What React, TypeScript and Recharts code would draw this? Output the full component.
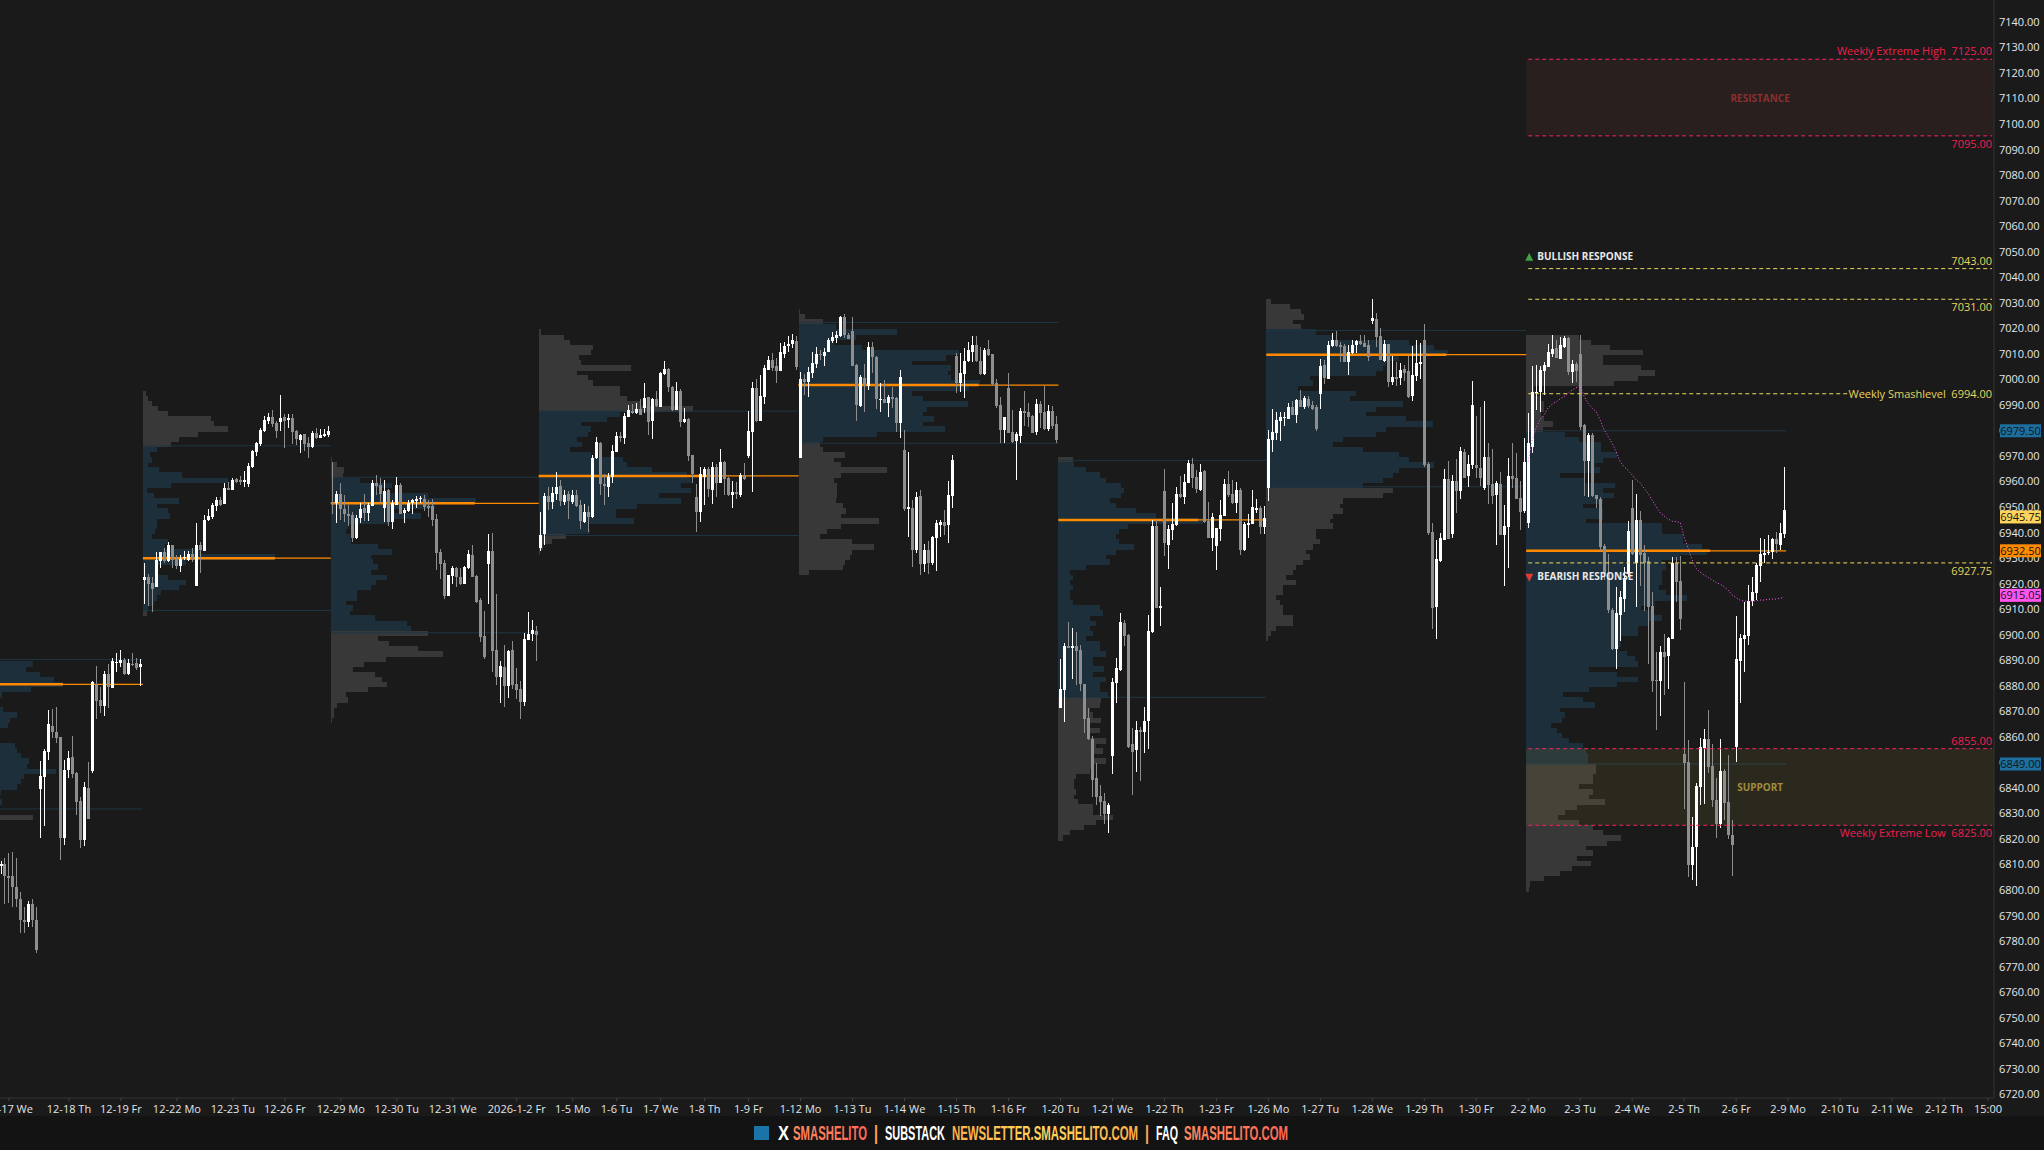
import { ComposedChart, Bar, Line, XAxis, YAxis, ReferenceLine, ReferenceArea, ReferenceDot } from "recharts";

// price bars are [open, high, low, close], 30 minute RTH bars, one list per weekly session
const week1215 = [
  [6809,6811,6806,6810],[6810,6812,6794,6805],[6805,6814,6794.5,6804.5],[6805,6814.5,6793,6801],[6801,6812,6793,6796],
  [6796,6799,6783,6788],[6788,6793,6783,6787],[6787,6795.5,6785,6794],[6794,6796,6785,6788],[6788,6793,6775,6776],
  [6839.3,6850,6820,6844.2],[6844,6854.7,6824.7,6854],[6853.6,6870,6850.6,6864.5],[6864,6870.7,6859.2,6861.5],[6861.7,6871.5,6857.2,6859.2],
  [6859.4,6859.4,6811.4,6820],[6820,6850.5,6817.2,6846.7],[6846.7,6854,6843.4,6851.2],[6851.7,6860,6843.4,6845],[6845.4,6845.7,6829,6834],
  [6834.4,6836,6816,6819.4],[6819.4,6842,6817,6839.8],[6839.5,6849.7,6827.4,6827.6],[6846.4,6881.7,6845.4,6881],[6880,6887.4,6866.6,6873.7],
  [6874,6879,6869,6871.6],[6871.6,6885.4,6867.7,6884.2],[6884.4,6888,6871,6879],[6878.6,6890.7,6878.6,6889.5],[6888.5,6892.6,6885,6889],
  [6888.4,6893.5,6887,6889.6],[6889.6,6890.7,6884,6884.2],[6884.2,6890,6884,6888.4],[6888.3,6892.5,6887.2,6887.6],[6888.4,6890.7,6886,6886.6],
  [6887,6890.2,6879.4,6888],
];
const week1222 = [
  [6921,6927.7,6911.7,6922.1],[6922.1,6923.3,6911,6919.6],[6919.9,6922.1,6908.4,6917.6],[6918.3,6931.9,6918.3,6928.9],[6928.4,6932,6925.9,6932],
  [6932.2,6933.4,6927.7,6928.4],[6928.4,6936,6928.2,6934.8],[6934.8,6934.8,6925.9,6928.9],[6929.2,6930.7,6925.2,6926.4],[6926.5,6930.7,6924.1,6929.2],
  [6929.5,6932.3,6928.9,6930.1],[6928.9,6932.3,6928.6,6931.2],[6931.2,6933.4,6928.2,6928.9],[6918.7,6943.2,6918.7,6934.8],[6934.8,6936,6923.9,6932.8],
  [6932.5,6946.6,6932.5,6944.5],[6944.5,6948.7,6944.3,6946.1],[6945.7,6951.4,6945.1,6950.4],[6950,6953.5,6948.1,6952.3],[6952.3,6953.5,6949.9,6950.6],
  [6951,6958.9,6951,6957.1],[6957.1,6959.5,6956.4,6956.4],[6956.4,6961.1,6956.2,6960.4],[6960.5,6961.1,6958.9,6959.3],[6960.1,6961.9,6958.1,6959.5],
  [6959.3,6963.7,6957.4,6960.1],[6958.6,6966.9,6957.4,6965.7],[6965.2,6972,6964.9,6971.5],[6971.3,6975.2,6969.7,6974.7],[6974.5,6980.4,6973.6,6979.9],
  [6979.3,6985.2,6978.9,6983.6],[6983.4,6986.3,6982.2,6984.8],[6984.8,6987.8,6981,6982.2],[6982.4,6983.2,6976.6,6979.4],[6983,6993.7,6979.4,6984.5],
  [6984.7,6985.9,6972.7,6983.2],[6983.6,6986.2,6980.7,6984.5],[6984.5,6985.9,6974.2,6978.9],[6979.4,6979.9,6973.9,6976.3],[6976,6978.4,6970.9,6978],
  [6978.4,6978.4,6971.5,6974.4],[6974.7,6976.9,6969,6973.2],[6973,6979.6,6972.7,6978.7],[6978.7,6980.7,6976.2,6976.6],[6976.8,6980.2,6976.6,6977.8],
  [6977.5,6980.2,6976.9,6978.3],[6977.8,6981.4,6977.2,6979.6],
];
const week1229 = [
  [6951.4,6967.4,6946.9,6951.1],[6951.1,6955.9,6943.4,6954.7],[6954.7,6959.2,6944.7,6948.9],[6948.9,6954.4,6943.6,6946.9],[6946.9,6950.4,6942.1,6946.1],
  [6946.6,6947.7,6936.1,6937.5],[6937.5,6946.6,6937,6945.4],[6945.2,6951.1,6943.2,6948.9],[6949.2,6954.7,6944,6947.2],[6947.2,6951.4,6944.2,6950.4],
  [6950.2,6960.1,6950.2,6958.9],[6959.2,6962.2,6954.4,6958],[6958.1,6961.1,6951.4,6954.7],[6949.2,6960.4,6943.9,6955.9],[6956.4,6956.7,6942.4,6943.9],
  [6943.7,6952.2,6940.9,6951.4],[6950.6,6961.5,6950.6,6958.1],[6958.1,6959.2,6946.9,6946.9],[6947.2,6949.2,6943.4,6948.4],[6948.1,6952.2,6947.7,6951.4],
  [6951.3,6952.9,6946.9,6952.3],[6952,6954.1,6949.2,6952.9],[6952.6,6953.9,6951.1,6953.2],[6952.9,6954.4,6948.1,6949.6],[6949.9,6952.2,6945.7,6949.2],
  [6949.9,6952.9,6942.4,6944.7],[6945.1,6946.9,6924.9,6931.6],[6931.9,6933.1,6921.4,6927.4],[6927.7,6928.9,6913.6,6914.7],[6914.8,6922.9,6914.7,6922.9],
  [6922.6,6926.6,6919.4,6925.9],[6925.9,6926.2,6918.4,6922.1],[6922.1,6925.9,6919.2,6919.6],[6919.6,6926.4,6919.4,6926.1],[6925.6,6933,6925.2,6931.2],
  [6930.9,6934.9,6922.1,6922.1],[6922.6,6922.9,6912.1,6912.4],[6913.2,6913.9,6896.7,6898.6],[6899.1,6908.8,6890.2,6891.1],[6927.3,6939.1,6911.5,6932.4],
  [6932.4,6939.4,6885.1,6893.2],[6893.5,6915.4,6879.9,6883.2],[6883.2,6889.2,6872.7,6887.4],[6887.1,6895.5,6871.2,6879.4],[6879.4,6893.7,6874.9,6893.2],
  [6893.5,6897,6878.2,6879.9],[6880.2,6886.5,6874.6,6877.9],[6878.2,6881.7,6866.7,6873.1],[6873.1,6900.4,6871.6,6897.9],[6897.4,6908.5,6897.4,6899.8],
  [6899.8,6905.5,6897.1,6901.5],[6901,6903,6889.5,6899.7],
];
const week0105 = [
  [6933.4,6947.8,6932.5,6938.7],[6938.9,6955.1,6934.7,6954.1],[6953.9,6957.3,6948.4,6951.6],[6951.6,6957.3,6948.8,6955],[6954.6,6963.2,6952.4,6957.6],
  [6957.8,6960.2,6950,6952.1],[6951.6,6956.5,6950.4,6954.2],[6954.6,6956,6945,6952],[6951.8,6956.5,6950.8,6954.2],[6954.2,6956.3,6949.8,6950.2],
  [6950.4,6952.4,6940.9,6944.1],[6943.6,6950.7,6943.2,6947.7],[6947.7,6950,6940,6945.8],[6945.8,6970,6945.4,6968.8],[6968.8,6977.2,6968.6,6975.1],
  [6974.9,6975.2,6954.3,6958.6],[6958.6,6962.5,6950.4,6957.8],[6957.5,6962.8,6953.7,6961.5],[6961.5,6973.9,6959.1,6971.6],[6971.2,6979,6971.2,6977.4],
  [6977.4,6978.9,6975.2,6976.6],[6976.6,6986.3,6974.3,6985.3],[6984.9,6989.6,6984.7,6987.6],[6987.2,6990,6986,6986.3],[6986.3,6990.2,6986,6988],
  [6988,6991.8,6985.7,6985.7],[6988.3,6998.1,6986.3,6992.4],[6992.6,6992.8,6977.8,6982.9],[6983.3,6992.4,6976.3,6991.8],[6991.9,6995,6988.7,6989.2],
  [6988.7,7002.5,6988.7,7002.2],[7001.7,7006.8,7001.4,7003.7],[7003.7,7003.9,6994.8,6996.5],[6996.6,6997,6987.2,6987.6],[6987.6,6998.5,6987.6,6995.1],
  [6995.1,6995.7,6981.1,6982.9],[6982.9,6988.5,6982.7,6984.1],[6984.1,6984.4,6967.6,6969.6],[6970,6970,6959.1,6962.5],[6953.7,6958.6,6940,6947.7],
  [6947.7,6965.4,6943.9,6962.4],[6961.5,6965.4,6950.5,6964.6],[6964.5,6965.4,6953.7,6956.7],[6956.3,6967.1,6950.7,6965.3],[6965.3,6966.5,6953.7,6959.1],
  [6959.1,6972.3,6958.9,6967.2],[6967.4,6967.6,6954.2,6960.6],[6961,6961.5,6953.9,6954.3],[6954.3,6959.8,6949.2,6955.5],[6955.5,6959.5,6952.6,6954.7],
  [6954.3,6963.1,6953.7,6962.3],[6962.2,6966.7,6960.2,6960.6],[6969.6,6987.2,6968.7,6979.4],[6979.1,6998.7,6955.6,6996.4],[6996.4,6999.6,6983,6983.4],
  [6983.4,7001.4,6983.4,6993.1],[6992.7,7005.2,6990,7003.9],[7003.3,7008.8,7003.3,7007.2],[7007.2,7010.1,7003,7003.9],[7004.9,7007.9,6998.3,7003],
  [7003,7014,7003,7010.3],[7009.5,7014.4,7008.1,7012.8],[7012.7,7016.6,7010.5,7013.5],[7013.5,7017.4,7011.9,7015],[7014.6,7016.6,7003.3,7004.3],
];
const week0112 = [
  [6968.8,7002.4,6968.7,6999.8],[6999.8,7001.7,6993.5,6998.5],[6998.5,7004.6,6992.8,7002.4],[7002,7010.5,7000,7005.9],[7005.6,7012.4,7003.9,7009.6],
  [7009.6,7011.1,7007.2,7009],[7008.8,7011.8,7005,7010.5],[7010.5,7015.9,7010.2,7015],[7014.6,7018.3,7014,7016.3],[7015.8,7018.6,7013.7,7017.1],
  [7016.7,7024.6,7016.3,7024.2],[7024.2,7025.1,7015.7,7016.9],[7016.9,7017.6,7015.3,7015.4],[7018.6,7023.9,7004.8,7005],[7005.2,7005.5,6983.4,6989.6],
  [6989.3,7001.3,6988.7,7000.4],[7000.3,7005.6,6987,6997.1],[6997.1,7014.4,6995.4,7012.4],[7012.4,7014.4,7002.2,7008.2],[7008.5,7008.8,6987.9,6991.9],
  [6991.5,6998.1,6987,6992],[6992,6999.4,6990.2,6990.2],[6990.5,6993.5,6985,6992.7],[6992.7,6996.8,6988.4,6992],[6992.3,6992.8,6979.1,6982.7],
  [6982.7,7003.3,6976.8,7000.5],[6971.9,6979.8,6948.2,6948.7],[6949,6971.2,6938,6949.6],[6949.2,6952.4,6926.3,6932.8],[6932.8,6955.4,6931.5,6953.5],
  [6953.9,6956.5,6923.2,6927.3],[6927.3,6935.1,6924.3,6932.8],[6932.8,6936.4,6923.6,6927.6],[6927.6,6938.3,6926.9,6937.9],[6937.6,6944.5,6924.7,6943.2],
  [6942.6,6944.5,6938,6943.7],[6943.7,6948.4,6938.7,6942.4],[6942.6,6959.8,6935.4,6954.2],[6954,6970,6949.1,6968],[7008.9,7009.8,6994.4,6998.3],
  [6998.3,7009.8,6994.8,7002.2],[7001.7,7011.8,6992.4,7007],[7006.8,7014.4,7006.5,7011.1],[7010.2,7016.7,7006.5,7013.1],[7013.1,7016.7,7006.5,7006.8],
  [7006.8,7012.4,7001.3,7001.7],[7001.7,7011.8,7001.3,7011.1],[7011.5,7015,7008.8,7009.2],[7009.4,7009.5,6997.4,6997.8],[6998.1,6999.8,6988.3,6989.2],
  [6989.6,6992.6,6974.6,6979.8],[6979.8,6985,6974.6,6984.7],[6996.2,7002,6978.5,6978.7],[6979,6987.6,6974.6,6975.2],[6975.5,6978.9,6960.2,6978.2],
  [6977.4,6988.3,6974.6,6987.2],[6987.2,6995.1,6981.3,6986.6],[6986.8,6990.2,6981.1,6984.7],[6985.3,6985.7,6978.5,6978.7],[6979.1,6991.9,6977.8,6990],
  [6990,6991.3,6980.4,6986.3],[6986.8,6997.1,6979.8,6980],[6980.2,6989.4,6979.5,6987.2],[6987.2,6989.2,6980,6981.3],[6982.1,6985.3,6974.8,6975.9],
];
const week0120 = [
  [6870.9,6890.1,6870.9,6878.3],[6877.9,6896.5,6865.3,6895.1],[6895.1,6904.5,6894.3,6894.4],[6894.4,6902.4,6882.1,6895.1],[6895.1,6900.6,6880,6893.3],
  [6893.6,6895.8,6877.6,6880.3],[6880.3,6880.3,6861.1,6866.7],[6867,6870.9,6858.3,6858.6],[6858.7,6860,6835.9,6842.7],[6843.5,6849.2,6833.1,6835.9],
  [6836.4,6840.8,6828.7,6834],[6834.4,6837.6,6825.4,6829.5],[6829.6,6833.6,6822,6833.1],[6852,6882.8,6845,6881],[6880.7,6890.5,6873,6886.6],
  [6886,6908.3,6885.6,6904.5],[6904.2,6905.2,6895.1,6899.2],[6899.6,6900,6855.2,6855.8],[6856.8,6863.2,6836.9,6853.8],[6854.4,6865.7,6845.7,6862.2],
  [6862.2,6863.6,6842.2,6861.4],[6861.4,6871.2,6853.2,6866],[6865.7,6907.3,6854.8,6901],[6900.6,6944.4,6900.3,6942.3],[6942.3,6944.4,6910,6910],
  [6910.2,6918.5,6903.1,6910.8],[6955.8,6964.4,6930.4,6935.5],[6934.7,6942.5,6925.5,6941.1],[6940.6,6951.4,6936.7,6943],[6942.6,6957.4,6942.3,6954.6],
  [6954.7,6961.6,6953,6953.4],[6953.4,6962.5,6950.7,6959.3],[6959,6967.9,6959,6966.9],[6966.3,6968.8,6957.2,6961.2],[6961.4,6964,6955.3,6956.7],
  [6956.3,6966.3,6956,6963.2],[6963.7,6964,6943.4,6943.7],[6944,6951.8,6937.4,6937.6],[6937.5,6947.2,6932.5,6945.6],[6934.3,6941.6,6925,6941.6],
  [6941.1,6952.3,6936.3,6946.5],[6946.2,6960.7,6946.2,6958.6],[6958.6,6963.7,6953.5,6954.3],[6954.7,6960.4,6950.7,6951.2],[6951.1,6959.6,6947.2,6956.4],
  [6956.3,6957,6930.8,6932.8],[6932.8,6943.7,6932.5,6943],[6942.5,6946.8,6937.5,6943.4],[6943.1,6956.3,6943,6949.5],[6948.6,6952.8,6947.2,6949.1],
  [6949.3,6950.1,6939.2,6941.7],[6941.7,6950.1,6939.2,6945.5],
];
const week0126 = [
  [6957.2,6979.8,6952.1,6976.3],[6975.8,6988,6971,6978.9],[6978.6,6987,6975.8,6983.7],[6983.3,6986.8,6975.4,6984.8],[6984.5,6987,6981.4,6984.9],
  [6984.2,6990.5,6984.2,6988.7],[6989,6991.2,6985.6,6985.6],[6985.8,6991.9,6982.6,6991.6],[6991.5,6995.4,6989,6989],[6988.9,6993.3,6988,6992.4],
  [6991.9,6993.3,6988.4,6989.1],[6989.6,6991.2,6987.7,6988.2],[6988.7,6989.6,6979.3,6980],[6993.9,7007.6,6988,7004.8],[7005.2,7007.3,6997.8,7000],
  [6999.9,7014.6,6999.6,7013],[7012.6,7017.8,7012.5,7015],[7015,7018.5,7012.5,7012.6],[7013.2,7014.3,7006.6,7012.2],[7012.8,7013.6,7006.3,7006.3],
  [7006.3,7012.9,7001.3,7010.5],[7010,7015,7009.7,7013.2],[7012.9,7015,7010.1,7014.6],[7014.6,7017,7012.9,7013.3],[7013.9,7017.1,7012.2,7012.5],
  [7013,7015,7006.9,7008.4],[7022.4,7031.1,7021.3,7023.7],[7023.1,7025.5,7012.2,7016.4],[7016.8,7019.9,7007.2,7007.2],[7007,7015,7006.6,7013.5],
  [7013.5,7013.6,6996.8,6998.5],[6998.5,7008.7,6997.5,7000.5],[7000.5,7006.3,6997.1,7000],[7000,7005.9,6997.5,7003.3],[7003.5,7005.2,6998.9,7002.1],
  [7002.8,7008.7,6992.4,6992.9],[6993,7012.6,6991.2,7001.3],[7000.9,7015,6998.9,7006.1],[7005.8,7013.9,6999.6,7006.3],[7015,7021.3,6965.3,6966],
  [6966.5,6967.4,6938.8,6939.5],[6940,6943.4,6902,6910.1],[6910.4,6936.7,6897.9,6929.3],[6928.6,6939.5,6928.3,6937.4],[6936.8,6964.4,6936.7,6960.5],
  [6960.5,6967.7,6937.1,6937.1],[6939.2,6962.1,6937.6,6960],[6960,6968.4,6947.2,6956],[6956,6973,6952.8,6971.4],[6971,6972.3,6960.9,6961.2],
  [6961.6,6970.2,6957.4,6966.3],[6966,6998.9,6964.6,6989.6],[6966,6985.4,6961.2,6964.9],[6964.9,6988.7,6957.7,6961.2],[6957.2,6991.1,6956.3,6969.1],
  [6969.1,6974.9,6950.7,6958.1],[6958.5,6972.3,6950.7,6953.9],[6954.2,6959.8,6934.8,6959.1],[6958.5,6963.3,6938.6,6938.8],[6938.8,6950.4,6918.8,6942.1],
  [6941.8,6968.8,6925.8,6961.6],[6961.9,6974.9,6957,6960.5],[6960.9,6970.7,6952.6,6952.8],[6953.2,6959.8,6940.6,6947.6],[6947.9,6976.5,6947.2,6967.4],
];
const week0202 = [
  [6943.2,6986.3,6941.3,6974.6],[6973.3,7005,6970.9,6994.5],[6994.2,7005.2,6987.6,6994.8],[6994.5,7005,6987,7003.3],[7002.9,7006.3,6993.5,7005.2],
  [7004.6,7013.5,7004.6,7010.2],[7009.4,7017,7008.5,7011.5],[7011.8,7015,7007.9,7008.1],[7007.6,7016.1,7007.6,7013.1],[7012.3,7016.6,7011.8,7016],
  [7015.8,7016.3,7001.3,7002.6],[7002.4,7007.2,6998.1,7005.6],[7005.6,7006.6,6998.5,7003],[7009.4,7017,6979.8,6981.1],[6981.8,6982.1,6954,6967.8],
  [6967.6,6978.5,6953.7,6977.8],[6977.8,6978.5,6953.4,6954],[6954.3,6954.3,6949.1,6952.6],[6952.6,6953.7,6932.4,6934.1],[6934.5,6935.1,6921,6923.6],
  [6923.6,6931.2,6908.2,6909.3],[6909.3,6909.9,6893.6,6893.9],[6894,6918.4,6886.2,6908.2],[6907.3,6916.7,6897.1,6914.5],[6913.6,6926.3,6908.6,6921.7],
  [6923.6,6944.3,6922.3,6940.4],[6949.4,6960.2,6930.8,6931.2],[6927.6,6954.7,6910.6,6944.5],[6944.5,6948.1,6918.7,6930.8],[6931.7,6934.7,6909,6927.9],
  [6928.5,6929.9,6888.1,6910.6],[6910.8,6916.3,6877.2,6881.6],[6881.9,6892.8,6862.3,6881.5],[6881.5,6895.2,6867.8,6892.8],[6892.8,6900.1,6876,6891],
  [6891.3,6898.8,6878.3,6898.3],[6897.9,6929.9,6897.9,6927.9],[6927.9,6929.9,6912.5,6920.4],[6920.6,6930.4,6901.4,6905.8],[6853.1,6881.1,6831.3,6849.5],
  [6849.7,6858.4,6804.8,6809.4],[6809.4,6828.3,6803.5,6816.6],[6816.5,6841.7,6801.2,6840.3],[6840.1,6859,6832.9,6855.5],[6855.1,6862.9,6833.3,6858.8],
  [6858.8,6870.1,6845.3,6847.9],[6848.2,6856.8,6832.2,6834.9],[6834.9,6843.6,6820.1,6825.7],[6825.7,6858.6,6823.8,6846.2],[6846.2,6846.9,6827,6833.8],
  [6834.1,6852.5,6819.5,6821.2],[6821.2,6827,6805.2,6817.2],[6855.8,6907,6849.9,6890.1],[6889.4,6899.8,6872.7,6898.3],[6898.1,6912.5,6885.1,6899.5],
  [6899.2,6919.1,6895.6,6912.8],[6912.9,6922.1,6910.8,6916.3],[6916,6927.6,6913.2,6926.9],[6926.6,6937.4,6920.4,6931.2],[6931,6937,6927.6,6931.6],
  [6931.6,6938.7,6930.8,6932.1],[6932.1,6937.4,6929.4,6937],[6937,6940,6931.5,6935],[6934.7,6943.2,6932.8,6939.3],[6939,6965.2,6937.7,6948.4],
];
const allBars = [...week1215, ...week1222, ...week1229, ...week0105, ...week0112, ...week0120, ...week0126, ...week0202];

const vwapWeek0202 = [
  6967.4,6975.9,6980.8,6984.1,6985.7,6988.6,6989.9,6990.9,6992,6992.9,6994.2,6995.5,6996.4,6997.2,6992.9,6990.2,6988.3,6987,6983.7,6979.8,
  6977.2,6974.6,6971.3,6967.4,6965.4,6963.9,6962.2,6960.2,6959.1,6956.9,6955,6952.4,6949.8,6947.4,6946.1,6944.9,6944.1,6943.9,6943.6,6938,
  6933.4,6928.9,6925.6,6924.1,6923,6922.1,6921.1,6920.1,6919.4,6918.4,6917.1,6915.2,6914.1,6913.2,6912.8,6912.8,6912.8,6912.9,6913.2,6913.2,
  6913.5,6913.6,6913.6,6913.9,6914.3,
];

// volume profile, one length per 2 point row from the top price down (in bar slots)
const profile1215 = [8.5,6.7,10.3,13.8,16,8,0.7,0,0,0.9,4.5,2.7,2.2,0,0,0,4,4.5,5.4,7.6,7.1,14.3,6.3,5.4,4.5,0.4,0,0.7,0,0,8.5];
const profile1222 = [0.7,1.3,2.2,3.8,6.3,17,17.9,21.4,13.8,8.9,7.1,3.6,1.8,2.2,1.3,4,9.8,21.4,7.1,1.1,2.7,8.9,3.6,6.3,6.7,3.6,3.6,3.1,2.2,6.3,5.4,14.3,33,10.7,3.6,3.6,6.3,10.7,8.9,4.5,3.6,2.7,1.3,0.9];
const profile1229 = [0.4,1.6,3.4,3,7.4,15.4,11,24.4,36.4,26,15.4,22.5,14.5,4.2,3.8,4.7,5.1,11.9,15.4,10.1,10.5,11.9,10.1,14,11.2,10.1,6.5,6.5,3.8,5.6,4.7,11,19,20,24.4,11.9,14.5,21.7,28,13.8,8.4,5.6,11,12.8,14,9.2,3.8,4.2,1.6,0.7,0.7,0.4];
const profile0105 = [0.6,6.4,7.8,13.6,13.1,10,10.5,23,9.6,12.2,13.6,20.3,20.3,22,25.6,38.6,20.3,17.1,10.5,13.1,12.2,9.6,10.9,7.8,13.1,21.2,22,28.3,37.2,38.1,35.5,38.1,30,35.5,24.7,19.4,19.4,23.9,12.2,12.7,6.9,3.3,1.1,0.4];
const profile0112 = [0.4,1.7,6.2,9.4,24.6,14.4,8.8,15.9,40,36.9,28.4,38.2,37.3,38.2,45.3,42.6,28.4,31.2,42.3,32.1,31.2,33.8,31.2,36.5,19.5,6.2,5.3,6.2,11.5,8.8,10.6,22.2,10.6,8.8,9.7,9.7,9.7,9.3,11,11.9,10.6,20,10.6,7.1,5.3,13.4,18.8,13.4,12.9,11.6,11.2,2.6];
const profile0120 = [3.6,4,6.9,10.3,11.9,15.7,16.5,15.7,12.8,14.4,19.4,24.4,36.1,17.3,15.2,14.4,15.2,19,14.4,11.9,12.8,6.9,2.8,3.6,2.8,3.6,2.8,2.8,3.6,10.3,11.1,7.8,9.4,7.8,8.6,6.9,10.3,10.3,11.9,8.6,8.6,11.5,8.6,11.9,10.3,10.3,12.3,10.7,10.3,7.8,8.6,10.7,7.8,10.3,7.8,11.9,9.4,11.1,8.6,11.9,8.6,7.8,4.4,4,4,4.4,4,4.8,8.6,8.6,13.6,9.4,6.5,2.8,1.1];
const profile0126 = [1.2,5.8,8.7,9.5,6.6,8.7,12.4,16.6,35.8,42,45.5,33.3,29.9,29.1,27.4,10.8,11.6,7.8,22.4,20.8,34.1,27.4,24.9,34.9,41.6,29.9,27.4,19.1,16.6,24.1,33.3,35.8,42,33.3,31.6,29.1,24.1,31.6,29.1,19.1,18.3,19.1,16.6,15.8,16.6,12.4,12.4,13.3,11.6,9.9,10.8,9.1,7.4,6.6,4.9,7.4,4.1,4.1,2.4,3.3,4.1,4.1,6.6,6.6,2.4,1.2,0.3];
const profile0202 = [13.2,16.2,21,29.3,19.3,19.3,28.8,32.3,28,21.9,1.9,2.3,3.6,4.5,4.5,3.6,4.5,6.7,4.1,
  9.7,13.2,18.8,18.8,22.7,19.3,17.1,18.4,8.4,14.5,22.3,19.3,21.9,19.3,14.1,19.3,19.3,14.9,34,34,39.2,39.2,44,45.3,38.4,34,34.9,34,34,34,33.2,34.9,40.1,32.3,28.8,31.4,34,30.6,28,28,
  23.6,23.6,23.2,25.3,27.1,28,15.8,22.7,28,22.7,15.8,9.3,14.1,17.1,8.4,9.7,8.9,6.3,7.6,8.9,10.6,14.1,14.9,15.4,15.4,17.5,17.5,16.7,16.7,13.2,16.7,15.8,19.7,12.8,9.7,8,13.2,16.7,19.3,23.6,20.1,14.9,16.7,12.8,16.2,11.5,8.4,4.5,1,0.6];

const profileLengths = [profile1215, profile1222, profile1229, profile0105, profile0112, profile0120, profile0126, profile0202];
const profileTops = [6888, 6994, 6968, 7018, 7026, 6968, 7030, 7016];
const sessionFirstBar = [0, 36, 83, 135, 200, 265, 317, 382];
const sessionLastBar = [35, 82, 134, 199, 264, 316, 381, 446];
const pocPrices = [6880.2, 6929.6, 6951.1, 6961.8, 6997.4, 6944.6, 7009.3, 6932.5];
const pocThickEnd = [16, 69, 119, 177, 245, 300, 362, 428];
const valueAreaHigh = [6889.9, 6973.6, 6961.3, 6987.2, 7021.9, 6967.9, 7018.8, 6979.5];
const valueAreaLow = [6831.4, 6909.1, 6900.4, 6938.5, 6974.6, 6875.1, 6957.6, 6849];

const tickSlots = [2,17,30,44,58,71,85,99,113,129,143,154,165,176,187,200,213,226,239,252,265,278,291,304,317,330,343,356,369,382,395,408,421,434,447,460,473,486,497];
const tickLabels = ["12-17 We","12-18 Th","12-19 Fr","12-22 Mo","12-23 Tu","12-26 Fr","12-29 Mo","12-30 Tu","12-31 We","2026-1-2 Fr","1-5 Mo","1-6 Tu","1-7 We","1-8 Th","1-9 Fr","1-12 Mo","1-13 Tu","1-14 We","1-15 Th","1-16 Fr","1-20 Tu","1-21 We","1-22 Th","1-23 Fr","1-26 Mo","1-27 Tu","1-28 We","1-29 Th","1-30 Fr","2-2 Mo","2-3 Tu","2-4 We","2-5 Th","2-6 Fr","2-9 Mo","2-10 Tu","2-11 We","2-12 Th","15:00"];
const priceTicks = [6720,6730,6740,6750,6760,6770,6780,6790,6800,6810,6820,6830,6840,6850,6860,6870,6880,6890,6900,6910,6920,6930,6940,6950,6960,6970,6980,6990,7000,7010,7020,7030,7040,7050,7060,7070,7080,7090,7100,7110,7120,7130,7140];

const SLOT_COUNT = 499;
const PRICE_DOMAIN = [6718.2, 7148.2];
const FONT = "'Open Sans', sans-serif";
const RED = "#f0265f";
const RED_TEXT = "#ee2150";
const YELLOW = "#efd95a";
const YELLOW_TEXT = "#e6d560";
const AXIS_TEXT = "#e2e6ea";

const slots = Array.from({ length: SLOT_COUNT }, (_, i) => {
  const bar = allBars[i];
  return {
    i,
    range: bar ? [bar[2], bar[1]] : null,
    open: bar ? bar[0] : null,
    high: bar ? bar[1] : null,
    close: bar ? bar[3] : null,
    vwap: i >= 382 && i < 382 + vwapWeek0202.length ? vwapWeek0202[i - 382] : null,
  };
});

const profileRows = profileLengths.flatMap((lengths, w) =>
  lengths
    .map((len, k) => {
      const price = profileTops[w] - 2 * k;
      const inValue = price <= valueAreaHigh[w] && price >= valueAreaLow[w];
      return { price, span: [sessionFirstBar[w], sessionFirstBar[w] + len], inValue };
    })
    .filter((r) => r.span[1] > r.span[0])
);

function Candle(props: any) {
  const { x, y, width, height, payload } = props;
  if (payload.open == null || !height) return <g />;
  const low = payload.range[0];
  const perPoint = height / (payload.high - low);
  const yOf = (p: number) => y + (payload.high - p) * perPoint;
  const up = payload.close >= payload.open;
  const color = up ? "#ffffff" : "#8e8e8e";
  const top = yOf(Math.max(payload.open, payload.close));
  const bottom = yOf(Math.min(payload.open, payload.close));
  const cx = Math.round(x + width / 2);
  return (
    <g shapeRendering="crispEdges">
      <rect x={cx} y={y} width={1} height={height} fill={color} />
      <rect x={cx - 1} y={top} width={3} height={Math.max(bottom - top, 1.5)} fill={color} />
    </g>
  );
}

// rows touch each other like in the platform, whatever band the numeric axis gives
function ProfileRow(props: any) {
  const { x, y, width, height, payload } = props;
  const rowHeight = 5.6;
  return (
    <rect
      x={x}
      y={y + height / 2 - rowHeight / 2}
      width={width}
      height={rowHeight}
      fill={payload.inValue ? "#1c2f3a" : "#383838"}
      shapeRendering="crispEdges"
    />
  );
}

function priceTag(fill: string, text: string) {
  return (props: any) => (
    <g>
      <rect x={props.cx + 6} y={props.cy - 6.5} width={41} height={13} fill={fill} />
      <text x={props.cx + 26.5} y={props.cy + 4} textAnchor="middle" fontSize={11} fontFamily={FONT} fill="#141414">{text}</text>
    </g>
  );
}

function responseLabel(text: string, color: string, up: boolean) {
  return (props: any) => (
    <g>
      <polygon
        points={up
          ? `${props.cx - 3},${props.cy + 5} ${props.cx + 1},${props.cy - 3} ${props.cx + 5},${props.cy + 5}`
          : `${props.cx - 3},${props.cy - 2} ${props.cx + 5},${props.cy - 2} ${props.cx + 1},${props.cy + 6}`}
        fill={color}
      />
      <text x={props.cx + 9} y={props.cy + 4.5} fontSize={10} fontWeight={700} fontFamily={FONT} fill="#e8e8e8">{text}</text>
    </g>
  );
}

function levelLine(price: number, color: string, textColor: string, text: string, position: string) {
  return (
    <ReferenceLine
      key={price}
      segment={[{ x: 382, y: price }, { x: 498, y: price }]}
      stroke={color}
      strokeWidth={1}
      strokeDasharray="4 3"
      label={{ value: text, position, offset: 4, dx: 4, fill: textColor, fontSize: 11, fontFamily: FONT }}
    />
  );
}

const chartSize = { width: 2044, height: 1116 };
const plotMargin = { top: 0, right: 50, bottom: 18, left: -1 };

export default function App() {
  return (
    <div style={{ position: "fixed", left: 0, top: 0, width: 2044, height: 1150, background: "#1a1a1a", overflow: "hidden" }}>
      {/* volume profiles and session lines, under the candles */}
      <div style={{ position: "absolute", left: 0, top: 0 }}>
        <ComposedChart {...chartSize} layout="vertical" data={profileRows} margin={plotMargin}>
          <XAxis type="number" hide domain={[0, SLOT_COUNT]} allowDataOverflow />
          <YAxis type="number" hide dataKey="price" domain={PRICE_DOMAIN} allowDataOverflow reversed />
          <Bar dataKey="span" barSize={5.5} shape={ProfileRow} isAnimationActive={false} />
          {sessionFirstBar.map((first, w) => (
            <ReferenceLine key={`vah${w}`} segment={[{ x: first, y: valueAreaHigh[w] }, { x: sessionLastBar[w] + 1, y: valueAreaHigh[w] }]} stroke="#1e3644" strokeWidth={1} />
          ))}
          {sessionFirstBar.map((first, w) => (
            <ReferenceLine key={`val${w}`} segment={[{ x: first, y: valueAreaLow[w] }, { x: sessionLastBar[w] + 1, y: valueAreaLow[w] }]} stroke="#1e3644" strokeWidth={1} />
          ))}
          {sessionFirstBar.map((first, w) => (
            <ReferenceLine key={`poc${w}`} segment={[{ x: first, y: pocPrices[w] }, { x: sessionLastBar[w] + 1, y: pocPrices[w] }]} stroke="#ff8a00" strokeWidth={1.3} />
          ))}
          {sessionFirstBar.map((first, w) => (
            <ReferenceLine key={`pocThick${w}`} segment={[{ x: first, y: pocPrices[w] }, { x: pocThickEnd[w], y: pocPrices[w] }]} stroke="#ff8a00" strokeWidth={2.5} />
          ))}
        </ComposedChart>
      </div>

      {/* candles, levels and axes */}
      <div style={{ position: "absolute", left: 0, top: 0 }}>
        <ComposedChart {...chartSize} data={slots} barCategoryGap={0} margin={{ top: 0, right: 0, bottom: 0, left: -1 }}>
          <XAxis
            dataKey="i"
            type="category"
            height={18}
            ticks={tickSlots}
            interval={0}
            tickFormatter={(v: number) => tickLabels[tickSlots.indexOf(v)]}
            tick={{ fill: AXIS_TEXT, fontSize: 11, fontFamily: FONT }}
            tickSize={3}
            tickMargin={4}
            tickLine={{ stroke: "#444" }}
            axisLine={{ stroke: "#333" }}
          />
          <YAxis
            orientation="right"
            width={50}
            type="number"
            domain={PRICE_DOMAIN}
            allowDataOverflow
            ticks={priceTicks}
            interval={0}
            tickFormatter={(v: number) => v.toFixed(2)}
            tick={{ fill: AXIS_TEXT, fontSize: 11, fontFamily: FONT, dy: 1 }}
            tickLine={false}
            tickSize={0}
            tickMargin={5}
            axisLine={{ stroke: "#333" }}
          />
          <Bar dataKey="range" barSize={3} shape={Candle} isAnimationActive={false} />
          <Line dataKey="vwap" stroke="#ff5cf0" strokeWidth={1} strokeDasharray="1 2" dot={false} isAnimationActive={false} />

          <ReferenceArea x1={382} x2={498} y1={7095} y2={7125} fill="rgb(150,70,62)" fillOpacity={0.12} label={{ value: "RESISTANCE", position: "center", fill: "#8a3030", fontSize: 10, fontWeight: 700, fontFamily: FONT, dy: 1 }} />
          <ReferenceArea x1={382} x2={498} y1={6825} y2={6855} fill="rgb(173,146,66)" fillOpacity={0.12} label={{ value: "SUPPORT", position: "center", fill: "#a08c3c", fontSize: 10, fontWeight: 700, fontFamily: FONT }} />

          {levelLine(7125, RED, RED_TEXT, "Weekly Extreme High\u00a0\u00a07125.00", "insideBottomRight")}
          {levelLine(7095, RED, RED_TEXT, "7095.00", "insideTopRight")}
          {levelLine(7043, YELLOW, YELLOW_TEXT, "7043.00", "insideBottomRight")}
          {levelLine(7031, YELLOW, YELLOW_TEXT, "7031.00", "insideTopRight")}
          {levelLine(6927.75, YELLOW, YELLOW_TEXT, "6927.75", "insideTopRight")}
          {levelLine(6855, RED, RED_TEXT, "6855.00", "insideBottomRight")}
          {levelLine(6825, RED, RED_TEXT, "Weekly Extreme Low\u00a0\u00a06825.00", "insideTopRight")}
          <ReferenceLine segment={[{ x: 382, y: 6994 }, { x: 462, y: 6994 }]} stroke={YELLOW} strokeWidth={1} strokeDasharray="4 3" />
          <ReferenceLine
            segment={[{ x: 382, y: 6994 }, { x: 498, y: 6994 }]}
            stroke="none"
            label={{ value: "Weekly Smashlevel\u00a0\u00a06994.00", position: "insideRight", offset: 1, dx: 1, fill: YELLOW_TEXT, fontSize: 11, fontFamily: FONT }}
          />

          <ReferenceDot x={382} y={7048} r={0} shape={responseLabel("BULLISH RESPONSE", "#43a047", true)} />
          <ReferenceDot x={382} y={6922.7} r={0} shape={responseLabel("BEARISH RESPONSE", "#e53935", false)} />
        </ComposedChart>
      </div>

      {/* current price tags, they sit over the axis labels */}
      <div style={{ position: "absolute", left: 0, top: 0 }}>
        <ComposedChart {...chartSize} data={slots} margin={plotMargin}>
          <XAxis dataKey="i" type="category" hide />
          <YAxis type="number" hide domain={PRICE_DOMAIN} allowDataOverflow />
          <ReferenceDot x={498} y={6979.5} r={0} shape={priceTag("#1c6f9f", "6979.50")} />
          <ReferenceDot x={498} y={6849} r={0} shape={priceTag("#1c6f9f", "6849.00")} />
          <ReferenceDot x={498} y={6945.75} r={0} shape={priceTag("#ffd45c", "6945.75")} />
          <ReferenceDot x={498} y={6932.5} r={0} shape={priceTag("#ff8a00", "6932.50")} />
          <ReferenceDot x={498} y={6915.05} r={0} shape={priceTag("#ff55ee", "6915.05")} />
        </ComposedChart>
      </div>

      {/* footer strip */}
      <svg width={2044} height={34} style={{ position: "absolute", left: 0, top: 1116, background: "#131313" }}>
        <defs>
          <linearGradient id="coral" x1="0" y1="0" x2="1" y2="0">
            <stop offset="0%" stopColor="#ff8a5c" />
            <stop offset="100%" stopColor="#ff6a5a" />
          </linearGradient>
          <linearGradient id="gold" x1="0" y1="0" x2="1" y2="0">
            <stop offset="0%" stopColor="#ffb04a" />
            <stop offset="50%" stopColor="#ffd65c" />
            <stop offset="100%" stopColor="#ffb04a" />
          </linearGradient>
        </defs>
        <rect x={754} y={10} width={15} height={14} fill="#1b74a8" />
        <g fontFamily="'Liberation Sans Narrow', 'Liberation Sans', sans-serif" fontWeight={700} fontSize={19.5}>
          <text x={778} y={24} textLength={11} lengthAdjust="spacingAndGlyphs" fill="#fff">X</text>
          <text x={793} y={24} textLength={74} lengthAdjust="spacingAndGlyphs" fill="url(#coral)">SMASHELITO</text>
          <text x={874} y={24} textLength={4} lengthAdjust="spacingAndGlyphs" fill="#ffa858">|</text>
          <text x={885} y={24} textLength={60} lengthAdjust="spacingAndGlyphs" fill="#fff">SUBSTACK</text>
          <text x={952} y={24} textLength={186} lengthAdjust="spacingAndGlyphs" fill="url(#gold)">NEWSLETTER.SMASHELITO.COM</text>
          <text x={1145} y={24} textLength={4} lengthAdjust="spacingAndGlyphs" fill="#ffa858">|</text>
          <text x={1156} y={24} textLength={22} lengthAdjust="spacingAndGlyphs" fill="#fff">FAQ</text>
          <text x={1184} y={24} textLength={104} lengthAdjust="spacingAndGlyphs" fill="url(#coral)">SMASHELITO.COM</text>
        </g>
      </svg>
    </div>
  );
}
